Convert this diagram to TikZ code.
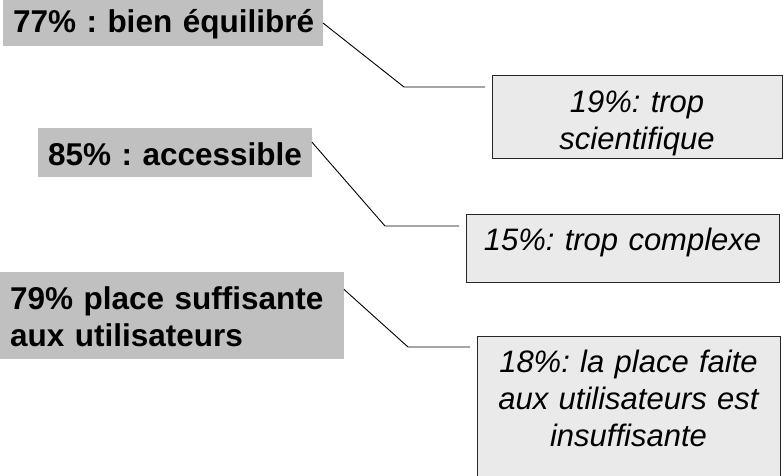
\documentclass[tikz,border=0pt]{standalone}
\usepackage{fontspec}
\setmainfont{Liberation Sans}
\usepackage{tikz}
\usetikzlibrary{ calc, positioning }
\definecolor{boxgray}{HTML}{C0C0C0}
\definecolor{boxlight}{HTML}{EAEAEA}
\setlength{\parindent}{0pt}
\frenchspacing
\hyphenpenalty=10000 % keep words whole inside the boxes
\tikzset{
x=1pt, y=-1pt, % one unit per pixel, y grows downwards
pro/.style={fill=boxgray, anchor=north west, inner xsep=10pt, inner ysep=0pt, outer sep=0pt, align=left, font=\fontsize{31.5}{37}\selectfont\bfseries}, % grey label, majority answer
con/.style={draw=black!85, line width=1pt, fill=boxlight, anchor=north west, inner xsep=0pt, inner ysep=0pt, outer sep=0pt, align=center, font=\fontsize{31}{37}\selectfont\itshape}, % light box, minority answer
link/.style={black, line width=0.9pt, shorten >=7pt}, % leader line between the two boxes
}

\begin{document}
\begin{tikzpicture}
  \useasboundingbox (0,0) rectangle (783,475);

  \node[pro, text width=300, text height=32.5, text depth=13.5] (p1) at (3,0) {\mbox{77\% : bien équilibré}};
  \node[pro, text width=254, text height=37, text depth=12] (p2) at (38,128) {\mbox{85\% : accessible}};
  \node[pro, text width=324, text height=37, text depth=50] (p3) at (0,272) {79\% place suffisante\\aux utilisateurs};

  \node[con, text width=290, text height=37, text depth=46] (n1) at (492,75) {19\%: trop\\scientifique};
  \node[con, text width=313, text height=36, text depth=32] (n2) at (466,214) {15\%: trop complexe};
  \node[con, text width=303, text height=36, text depth=113] (n3) at (477,336) {18\%: la place faite\\aux utilisateurs est\\insuffisante};

  % bends of the leader lines
  \coordinate (k1) at (404,87);
  \coordinate (k2) at (385,226);
  \coordinate (k3) at (408,347);

  \draw[link] (p1.east) -- (k1) -- (n1.west |- k1);
  \draw[link] ($(p2.north east)!0.29!(p2.south east)$) -- (k2) -- (n2.west |- k2);
  \draw[link] ($(p3.north east)!0.2!(p3.south east)$) -- (k3) -- (n3.west |- k3);
\end{tikzpicture}
\end{document}
